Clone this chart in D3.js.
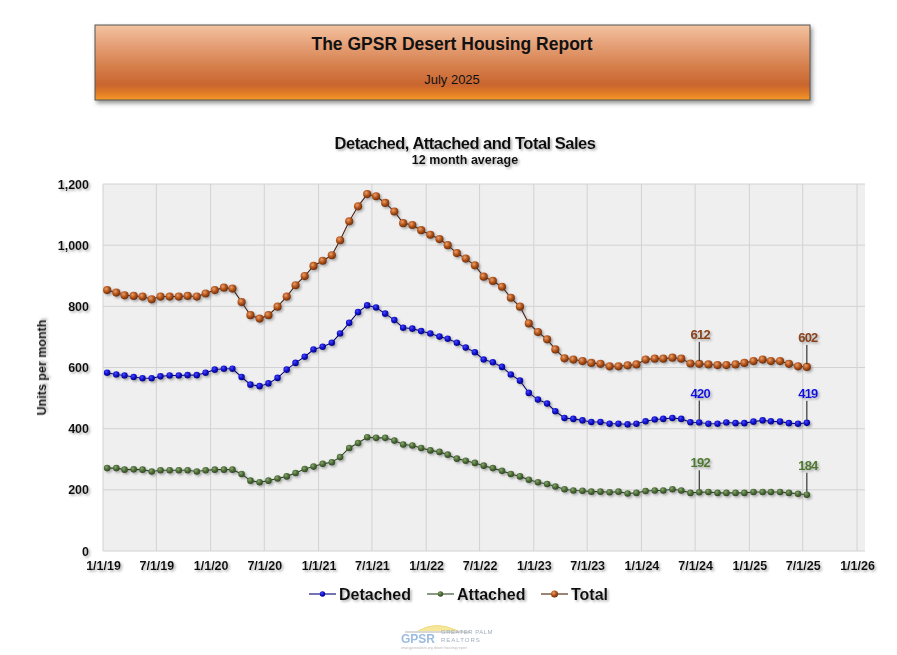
<!DOCTYPE html>
<html lang="en">
<head>
  <meta charset="UTF-8">
  <title>Detached, Attached and Total Sales</title>
  <script src="https://d3js.org/d3.v7.min.js"></script>
  <style>
    body { margin: 0; background: #fff; font-family: "Liberation Sans", Arial, sans-serif; }
    svg { display: block; }
    .tick-label { font-size: 12.5px; font-weight: bold; fill: #111; }
    .legend-label { font-size: 16px; font-weight: bold; fill: #111; }
  </style>
</head>
<body>
  <div id="chart"></div>
  <script>
    // monthly data, Jan 2019 - Jul 2025 (12 month average)
    const startMonth = new Date(2019, 0, 15);
    const monthCount = 79;

    const detached = [583, 577, 574, 569, 565, 565, 571, 574, 574, 575, 575, 583,
      593, 596, 596, 569, 544, 539, 548, 566, 593, 615, 635, 659,
      668, 681, 711, 746, 781, 803, 796, 776, 755, 730, 727, 719,
      711, 701, 694, 681, 665, 650, 626, 617, 602, 577, 557, 517,
      495, 482, 457, 435, 432, 427, 422, 422, 416, 416, 414, 416,
      424, 430, 432, 435, 432, 421, 420, 416, 416, 420, 418, 418,
      423, 427, 424, 423, 418, 416, 419];

    const attached = [271, 271, 266, 267, 266, 260, 264, 264, 264, 264, 260, 264,
      266, 266, 266, 252, 230, 225, 230, 237, 244, 255, 268, 276,
      285, 290, 307, 337, 353, 372, 370, 370, 361, 348, 345, 337,
      329, 324, 315, 302, 295, 288, 279, 271, 262, 252, 244, 233,
      225, 219, 211, 202, 198, 197, 194, 194, 192, 194, 188, 190,
      196, 198, 198, 202, 198, 190, 192, 193, 190, 190, 190, 190,
      193, 193, 193, 193, 190, 187, 184];

    const total = [853, 845, 836, 834, 832, 823, 832, 832, 832, 834, 832, 842,
      853, 861, 858, 814, 771, 760, 771, 799, 832, 869, 899, 932,
      949, 967, 1016, 1078, 1127, 1167, 1160, 1138, 1110, 1072, 1066, 1049,
      1034, 1020, 1000, 974, 956, 934, 897, 883, 864, 828, 799, 744,
      716, 692, 659, 630, 626, 621, 615, 612, 604, 604, 607, 610,
      626, 629, 629, 632, 629, 613, 612, 610, 608, 608, 610, 615,
      621, 626, 621, 621, 612, 604, 602];

    const seriesNames = ["Detached", "Attached", "Total"];
    const yTicks = [0, 200, 400, 600, 800, 1000, 1200];
    // months (index into the series) that carry a value label
    const labelIndexes = [66, 78];

    const months = d3.range(monthCount).map(i => d3.timeMonth.offset(startMonth, i));

    const W = 897, H = 655;
    const plot = { left: 103, right: 865, top: 184, bottom: 551 };

    const svg = d3.select("#chart").append("svg")
      .attr("width", W).attr("height", H);

    const defs = svg.append("defs");

    // banner gradient
    const bg = defs.append("linearGradient").attr("id", "banner")
      .attr("x1", 0).attr("y1", 0).attr("x2", 0).attr("y2", 1);
    [[0, "#f3c3a0"], [0.25, "#e6a27a"], [0.55, "#d67f4c"], [0.8, "#c9652f"], [0.92, "#e47f26"], [1, "#f59a2a"]]
      .forEach(([o, c]) => bg.append("stop").attr("offset", o).attr("stop-color", c));

    const shadow = defs.append("filter").attr("id", "shadow")
      .attr("x", "-20%").attr("y", "-20%").attr("width", "160%").attr("height", "160%");
    shadow.append("feDropShadow").attr("dx", 1.6).attr("dy", 1.6)
      .attr("stdDeviation", 1).attr("flood-color", "#777").attr("flood-opacity", 0.6);

    const boxShadow = defs.append("filter").attr("id", "boxShadow")
      .attr("x", "-5%").attr("y", "-10%").attr("width", "110%").attr("height", "130%");
    boxShadow.append("feDropShadow").attr("dx", 2).attr("dy", 3)
      .attr("stdDeviation", 2).attr("flood-color", "#555").attr("flood-opacity", 0.6);

    const colors = {
      Detached: { line: "#00007a", hi: "#4a4aff", mid: "#1414d0", lo: "#00008a", r: 3.3 },
      Attached: { line: "#2c4520", hi: "#8aa872", mid: "#50703a", lo: "#2f4a20", r: 3.3 },
      Total: { line: "#4a2006", hi: "#eaa070", mid: "#b8581c", lo: "#6e2e06", r: 4.1 },
      labelFill: { Detached: "#1010e0", Attached: "#4e7a2e", Total: "#8a4216" }
    };

    seriesNames.forEach(name => {
      const g = defs.append("radialGradient").attr("id", "ball-" + name)
        .attr("cx", "38%").attr("cy", "35%").attr("r", "65%");
      g.append("stop").attr("offset", 0).attr("stop-color", colors[name].hi);
      g.append("stop").attr("offset", 0.5).attr("stop-color", colors[name].mid);
      g.append("stop").attr("offset", 1).attr("stop-color", colors[name].lo);
    });

    // header banner
    svg.append("rect")
      .attr("x", 95).attr("y", 25).attr("width", 715).attr("height", 75)
      .attr("fill", "url(#banner)").attr("stroke", "#555").attr("stroke-width", 1)
      .attr("filter", "url(#boxShadow)");
    svg.append("text")
      .attr("x", 452).attr("y", 50).attr("text-anchor", "middle")
      .style("font-size", "17.5px").style("font-weight", "bold").attr("fill", "#111")
      .text("The GPSR Desert Housing Report");
    svg.append("text")
      .attr("x", 452).attr("y", 84).attr("text-anchor", "middle")
      .style("font-size", "13px").attr("fill", "#111")
      .text("July 2025");

    // chart titles
    svg.append("text")
      .attr("x", 465).attr("y", 149).attr("text-anchor", "middle")
      .style("font-size", "16.5px").style("font-weight", "bold").style("letter-spacing", "-0.5px")
      .attr("fill", "#111").attr("filter", "url(#shadow)")
      .text("Detached, Attached and Total Sales");
    svg.append("text")
      .attr("x", 465).attr("y", 164).attr("text-anchor", "middle")
      .style("font-size", "12.5px").style("font-weight", "bold")
      .attr("fill", "#111").attr("filter", "url(#shadow)")
      .text("12 month average");

    // scales
    const x = d3.scaleTime()
      .domain([new Date(2019, 0, 1), new Date(2026, 0, 1)])
      .range([plot.left, 857]);
    const y = d3.scaleLinear().domain([0, 1200]).range([plot.bottom, plot.top]);

    // plot area
    svg.append("rect")
      .attr("x", plot.left).attr("y", plot.top)
      .attr("width", plot.right - plot.left).attr("height", plot.bottom - plot.top)
      .attr("fill", "#efefef");

    const xTicks = d3.timeMonth.every(6).range(new Date(2019, 0, 1), new Date(2026, 0, 2));

    svg.append("g").selectAll("line").data(xTicks).join("line")
      .attr("x1", d => x(d)).attr("x2", d => x(d))
      .attr("y1", plot.top).attr("y2", plot.bottom)
      .attr("stroke", "#d2d2d2").attr("stroke-width", 1);
    svg.append("g").selectAll("line").data(yTicks).join("line")
      .attr("x1", plot.left).attr("x2", plot.right)
      .attr("y1", d => y(d)).attr("y2", d => y(d))
      .attr("stroke", "#d2d2d2").attr("stroke-width", 1);

    // axes (labels only, as in the source)
    const xAxis = svg.append("g")
      .attr("transform", `translate(0,${plot.bottom + 2})`)
      .call(d3.axisBottom(x).tickValues(xTicks).tickFormat(d3.timeFormat("%-m/%-d/%y")).tickSize(0).tickPadding(8));
    xAxis.select(".domain").remove();
    xAxis.selectAll("text").attr("class", "tick-label").attr("filter", "url(#shadow)")
      .style("font-family", "'Liberation Sans', Arial, sans-serif");

    const yAxis = svg.append("g")
      .attr("transform", `translate(${plot.left - 14},0)`)
      .call(d3.axisLeft(y).tickValues(yTicks).tickFormat(d3.format(",")).tickSize(0).tickPadding(0));
    yAxis.select(".domain").remove();
    yAxis.selectAll("text").attr("class", "tick-label").attr("filter", "url(#shadow)")
      .style("font-family", "'Liberation Sans', Arial, sans-serif");

    svg.append("text")
      .attr("transform", `translate(46,${(plot.top + plot.bottom) / 2}) rotate(-90)`)
      .attr("text-anchor", "middle")
      .style("font-size", "12.5px").style("font-weight", "bold").attr("fill", "#111")
      .attr("filter", "url(#shadow)")
      .text("Units per month");

    // series
    const seriesData = { Detached: detached, Attached: attached, Total: total };
    const line = d3.line().x((d, i) => x(months[i])).y(d => y(d));

    seriesNames.forEach(name => {
      const vals = seriesData[name];
      const g = svg.append("g").attr("filter", "url(#shadow)");
      g.append("path").datum(vals)
        .attr("d", line).attr("fill", "none")
        .attr("stroke", colors[name].line).attr("stroke-width", 1.1);
      g.selectAll("circle").data(vals).join("circle")
        .attr("cx", (d, i) => x(months[i])).attr("cy", d => y(d))
        .attr("r", colors[name].r)
        .attr("fill", `url(#ball-${name})`);
    });

    // value labels with leader lines
    seriesNames.forEach(name => {
      const vals = seriesData[name];
      labelIndexes.forEach(i => {
        const px = x(months[i]), py = y(vals[i]);
        svg.append("line")
          .attr("x1", px).attr("x2", px)
          .attr("y1", py - 3).attr("y2", py - 22)
          .attr("stroke", "#111").attr("stroke-width", 1);
        svg.append("text")
          .attr("x", px + 1).attr("y", py - 25)
          .attr("text-anchor", "middle")
          .style("font-size", "13px").style("font-weight", "bold").style("letter-spacing", "-0.8px")
          .attr("fill", colors.labelFill[name]).attr("filter", "url(#shadow)")
          .text(d3.format(",")(vals[i]));
      });
    });

    // legend
    const legendX = { Detached: 309, Attached: 427, Total: 541 };
    seriesNames.forEach(name => {
      const lg = svg.append("g").attr("transform", `translate(${legendX[name]},594)`);
      lg.append("line").attr("x1", 0).attr("x2", 27).attr("y1", 0).attr("y2", 0)
        .attr("stroke", colors[name].line).attr("stroke-width", 1.1);
      lg.append("circle").attr("cx", 13.5).attr("cy", 0).attr("r", colors[name].r - 0.6)
        .attr("fill", `url(#ball-${name})`);
      lg.append("text").attr("class", "legend-label")
        .attr("x", 30).attr("y", 6).attr("filter", "url(#shadow)")
        .text(name);
    });

    // footer logo (faint)
    const logo = svg.append("g").attr("opacity", 0.75);
    logo.append("path")
      .attr("d", "M418,631 Q436,620 458,631")
      .attr("fill", "#f4e07a").attr("stroke", "#e8cf50").attr("stroke-width", 1);
    logo.append("line").attr("x1", 405).attr("x2", 470).attr("y1", 632).attr("y2", 632)
      .attr("stroke", "#999").attr("stroke-width", 1);
    logo.append("text").attr("x", 401).attr("y", 643)
      .style("font-size", "12px").style("font-weight", "bold").attr("fill", "#7aa6d6")
      .text("GPSR");
    logo.append("text").attr("x", 441).attr("y", 634)
      .style("font-size", "6px").attr("fill", "#8090a0").style("letter-spacing", "0.5px")
      .text("GREATER PALM");
    logo.append("text").attr("x", 441).attr("y", 642)
      .style("font-size", "6px").attr("fill", "#8090a0").style("letter-spacing", "1px")
      .text("REALTORS");
    logo.append("text").attr("x", 401).attr("y", 649)
      .style("font-size", "3.5px").attr("fill", "#a0a0a0")
      .text("www.gpsrealtors.org  desert housing report");
  </script>
</body>
</html>
